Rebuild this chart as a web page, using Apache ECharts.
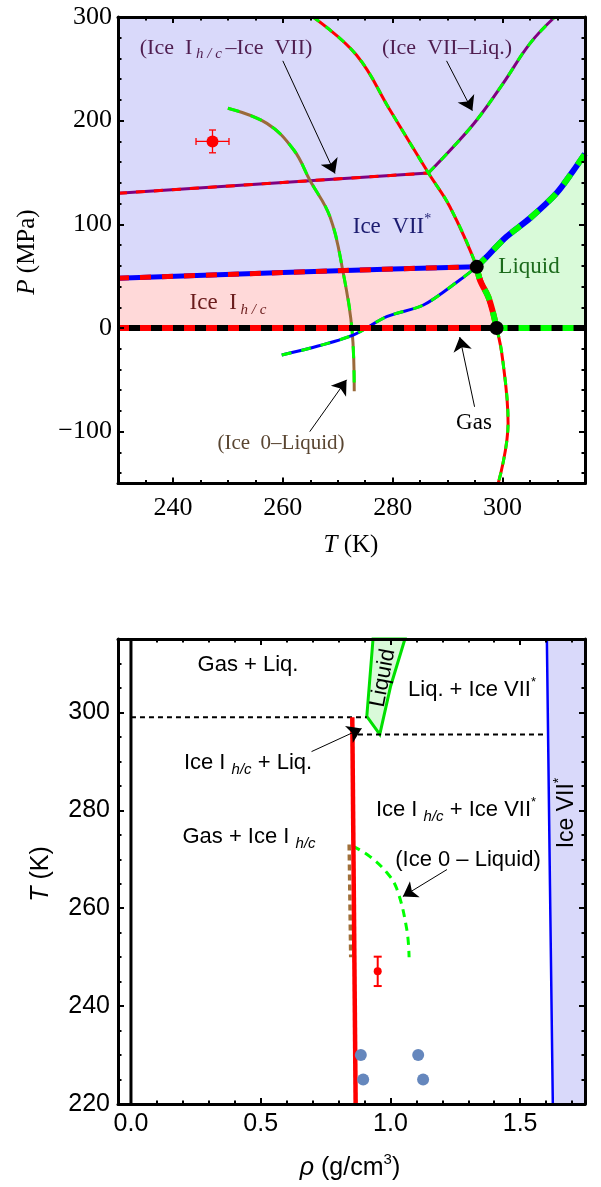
<!DOCTYPE html>
<html>
<head>
<meta charset="utf-8">
<script src="https://cdn.jsdelivr.net/npm/echarts@6/dist/echarts.min.js"></script>
<style>html,body{margin:0;padding:0;background:#fff}#main{width:601px;height:1187px}</style>
</head>
<body>
<div id="main"></div>
<script>
// ---------- top panel : P(T) phase diagram ----------
const topTTicks=[240,260,280,300]
const topPTicks=[-100,0,100,200,300]
const ihVIIStable=[[230,48],[260,53.5],[280,57],[295.3,59]]
const liqVIIStable=[[295.3,59],[297.1,68.6],[300.7,88],[305,106],[309.8,130],[312.9,152],[315,168]]
const ihLiqStable=[[295.3,59],[295.9,46],[297.4,30],[298.3,14],[298.9,0]]
const ihLiqMeta=[[265.5,300],[273.4,263.3],[279.5,210.3],[286.5,149.5],[290.4,117],[295.3,59],[298.9,0],[300.1,-34],[301,-92],[299.2,-150]]
const liqVIIMeta=[[286.5,149.5],[291.6,178],[295.3,200.6],[300.1,236],[305,274.6],[309.5,300]]
const ihVIIMeta=[[230,130],[286.5,149.5]]
const ice0Liq=[[250,212],[257.1,197.4],[262,171.7],[264.9,142.8],[268.6,107],[271,53],[272.6,-2],[273,-61]]
const ice0Meta=[[259.8,-26],[264.9,-19.6],[272.8,-6.8],[278.9,10.9],[285.6,22.2],[292.2,46.3],[295.3,59]]
const gasIh=[[230,0],[298.9,0]]
const gasLiq=[[298.9,0],[315,0]]
const triplePts=[[295.3,59],[298.9,0]]
const expTop=[[247.2,180,3,11]]
const topArrows=[[[260,257.7],[269.5,149]],[[289.8,257.7],[294.5,209.6]],[[294.9,-76],[292.2,-8.7]],[[264.9,-100],[271.6,-50]]]

// ---------- bottom panel : T(rho) ----------
const botRhoTicks=[0,0.5,1,1.5]
const botTTicks=[220,240,260,280,300]
const gasLine=[[0,220],[0,315]]
const ihLine=[[0.866,220],[0.853,299]]
const viiLine=[[1.626,220],[1.615,264.6],[1.603,315]]
const tripleHigh=[[0,299],[0.909,299]]
const tripleLow=[[0.875,295.5],[1.597,295.5]]
const liqRegion=[[0.909,299.2],[0.959,295.5],[1.001,305.4],[1.056,315],[0.933,315]]
const ice0Ih=[[0.841,273],[0.847,250]]
const ice0LiqRho=[[0.855,272.7],[0.92,270.6],[0.986,267.3],[1.025,263.9],[1.063,255.7],[1.072,250]]
const expBot=[[0.951,247.1,0,3]]
const simPts=[[0.886,230],[0.895,225],[1.107,230],[1.126,225]]
const botArrows=[[[0.696,292],[0.889,296.7]],[[1.218,267.9],[1.048,262.4]]]

const SERIF='"Liberation Serif","Times New Roman",serif'
const SANS='"Liberation Sans",Arial,sans-serif'
const LAV='#d9d9fa', PINK='#ffd9d9', LGREEN='#d9fad9'

function range(a,b,s){const r=[];for(let v=a;v<=b+1e-9;v+=s)r.push(+v.toFixed(4));return r}
function minorsOf(all,majors){return all.filter(v=>!majors.some(m=>Math.abs(m-v)<1e-6))}

// frame axes: a major + a minor axis on each side, ticks inside
function axesFor(dim,grid,min,max,majors,minors,fmt,font,size,margin){
  const sides=dim==='x'?['bottom','top']:['left','right']
  const out=[]
  sides.forEach((pos,i)=>{
    out.push({gridIndex:grid,type:'value',min,max,position:pos,z:10,splitLine:{show:false},
      axisLine:{show:true,onZero:false,lineStyle:{color:'#000',width:3}},
      axisTick:{show:true,inside:true,length:6,customValues:majors,lineStyle:{color:'#000',width:2}},
      axisLabel:{show:i===0,customValues:majors,formatter:fmt,fontFamily:font,fontSize:size,color:'#000',margin}})
    out.push({gridIndex:grid,type:'value',min,max,position:pos,z:10,splitLine:{show:false},
      axisLine:{show:false,onZero:false},
      axisTick:{show:true,inside:true,length:3.5,customValues:minors,lineStyle:{color:'#000',width:2}},
      axisLabel:{show:false}})
  })
  return out
}

function poly(points,color,ai){
  return {type:'custom',xAxisIndex:ai,yAxisIndex:ai,silent:true,z:1,data:[points[0]],
    renderItem:(p,api)=>({type:'polygon',shape:{points:points.map(pt=>api.coord(pt))},style:{fill:color}})}
}
function line(data,color,width,ai,dash,smooth,z){
  return {type:'line',xAxisIndex:ai,yAxisIndex:ai,data,symbol:'none',showSymbol:false,silent:true,
    smooth:smooth||false,z:z||3,lineStyle:{color,width,type:dash||'solid',cap:'butt'}}
}
function twoTone(data,c1,c2,width,dash,ai,smooth,z){
  return [line(data,c1,width,ai,null,smooth,z),line(data,c2,width,ai,dash,smooth,z)]
}
function errBars(data,ai,cap,w){
  return {type:'custom',xAxisIndex:ai,yAxisIndex:ai,data,z:6,silent:true,
    renderItem(p,api){
      const x=api.value(0),y=api.value(1),dx=api.value(2),dy=api.value(3)
      const st={stroke:'#ff0000',lineWidth:w}
      const ch=[]
      const seg=(x1,y1,x2,y2)=>ch.push({type:'line',shape:{x1,y1,x2,y2},style:st})
      if(dx>0){const a=api.coord([x-dx,y]),b=api.coord([x+dx,y])
        seg(a[0],a[1],b[0],b[1]);seg(a[0],a[1]-cap,a[0],a[1]+cap);seg(b[0],b[1]-cap,b[0],b[1]+cap)}
      if(dy>0){const a=api.coord([x,y-dy]),b=api.coord([x,y+dy])
        seg(a[0],a[1],b[0],b[1]);seg(a[0]-cap,a[1],a[0]+cap,a[1]);seg(b[0]-cap,b[1],b[0]+cap,b[1])}
      return {type:'group',children:ch}
    }}
}
function arrows(list,ai){
  return {type:'lines',coordinateSystem:'cartesian2d',xAxisIndex:ai,yAxisIndex:ai,z:8,silent:true,
    symbol:['none','arrow'],symbolSize:14,lineStyle:{color:'#000',width:1,opacity:1},
    data:list.map(c=>({coords:c}))}
}

const fmtP=v=>v<0?'\u2212'+Math.abs(v):String(v)
const xAxes=[
  ...axesFor('x',0,230,315,topTTicks,minorsOf(range(230,315,5),topTTicks),v=>String(v),SERIF,26,12),
  ...axesFor('x',1,-0.05,1.75,botRhoTicks,minorsOf(range(0,1.7,0.1),botRhoTicks),v=>v.toFixed(1),SANS,25,8)
]
const yAxes=[
  ...axesFor('y',0,-150,300,topPTicks,minorsOf(range(-140,300,20),topPTicks),fmtP,SERIF,26,6),
  ...axesFor('y',1,220,315,botTTicks,minorsOf(range(225,315,5),botTTicks),v=>String(v),SANS,25,8)
]

const lavTop=[...ihVIIStable,...liqVIIStable.slice(1),[315,300],[230,300]]
const pinkTop=[[230,0],...ihVIIStable,...ihLiqStable.slice(1)]
const greenTop=[...liqVIIStable,[315,0],...ihLiqStable.slice().reverse()]
const lavBot=[...viiLine,[1.75,315],[1.75,220]]

const series=[
  poly(lavTop,LAV,0),poly(pinkTop,PINK,0),poly(greenTop,LGREEN,0),
  ...twoTone(ihVIIMeta,'#800080','#ff0000',3,[9,9],0,false,3),
  ...twoTone(liqVIIMeta,'#800080','#00ff00',3,[9,9],0,0.4,3),
  ...twoTone(ice0Liq,'#9a6a3a','#00ff00',3,[12,12],0,0.4,3),
  ...twoTone(ice0Meta,'#0000ff','#00ff00',3,[10,10],0,0.3,3),
  ...twoTone(ihLiqMeta,'#ff0000','#00ff00',3,[8,8],0,0.4,4),
  ...twoTone(ihVIIStable,'#0000ff','#ff0000',5,[11,11],0,false,5),
  ...twoTone(liqVIIStable,'#0000ff','#00ff00',6,[12,12],0,0.3,5),
  ...twoTone(ihLiqStable,'#ff0000','#00ff00',6,[12,12],0,0.3,5),
  ...twoTone(gasIh,'#000000','#ff0000',6,[11,11],0,false,5),
  ...twoTone(gasLiq,'#000000','#00ff00',6,[11,11],0,false,5),
  {type:'scatter',xAxisIndex:0,yAxisIndex:0,data:triplePts,symbolSize:14,itemStyle:{color:'#000',opacity:1},z:7,silent:true},
  errBars(expTop,0,3.5,1.3),
  {type:'scatter',xAxisIndex:0,yAxisIndex:0,data:expTop.map(d=>[d[0],d[1]]),symbolSize:12,itemStyle:{color:'#ff0000',opacity:1},z:7,silent:true},
  arrows(topArrows,0),

  poly(lavBot,LAV,4),
  {type:'custom',xAxisIndex:4,yAxisIndex:4,silent:true,z:2,data:[liqRegion[0]],
    renderItem:(p,api)=>({type:'polygon',shape:{points:liqRegion.map(pt=>api.coord(pt))},style:{fill:LGREEN,stroke:'#00e000',lineWidth:3,lineJoin:'miter'}})},
  line(gasLine,'#000',3,4),
  line(viiLine,'#0000ff',2.5,4),
  line(tripleHigh,'#000',2,4,[5,4]),
  line(tripleLow,'#000',2,4,[5,4]),
  line(ihLine,'#ff0000',4.5,4,null,false,4),
  line(ice0Ih,'#a0703a',3.5,4,[6,4]),
  line(ice0LiqRho,'#00ff00',3,4,[8,6],0.4),
  errBars(expBot,4,4,2),
  {type:'scatter',xAxisIndex:4,yAxisIndex:4,data:expBot.map(d=>[d[0],d[1]]),symbolSize:8,itemStyle:{color:'#ff0000',opacity:1},z:7,silent:true},
  {type:'scatter',xAxisIndex:4,yAxisIndex:4,data:simPts,symbolSize:12,itemStyle:{color:'#6587bd',opacity:1},z:7,silent:true},
  arrows(botArrows,4)
]

function rs(font,size,color){
  return {
    n:{fontFamily:font,fontSize:size,fill:color,lineHeight:size+6},
    i:{fontFamily:font,fontSize:size,fill:color,fontStyle:'italic',lineHeight:size+6},
    s:{fontFamily:font,fontSize:Math.round(size*0.66),fill:color,fontStyle:'italic',verticalAlign:'bottom',lineHeight:Math.round(size*0.66)},
    p:{fontFamily:font,fontSize:Math.round(size*0.6),fill:color,verticalAlign:'top',lineHeight:Math.round(size*0.6)}
  }
}
function txt(x,y,text,font,size,color,rot){
  return {type:'text',x,y,rotation:rot||0,z:100,silent:true,
    style:{text,align:'center',verticalAlign:'middle',rich:rs(font,size,color),fontFamily:font,fontSize:size,fill:color}}
}
const PURP='#4f1d4f'
const graphic=[
  txt(226,48,'{n|(Ice  I}{s| h / c }{n|\u2013Ice  VII)}',SERIF,22,PURP),
  txt(447,48,'{n|(Ice  VII\u2013Liq.)}',SERIF,22,PURP),
  txt(392,227,'{n|Ice  VII}{p|*}',SERIF,23,'#1c1c70'),
  txt(529,267,'{n|Liquid}',SERIF,23,'#1c6a1c'),
  txt(228,303,'{n|Ice  I}{s| h / c}',SERIF,23,'#6a1c1c'),
  txt(474,423,'{n|Gas}',SERIF,23,'#000'),
  txt(281,443,'{n|(Ice  0\u2013Liquid)}',SERIF,21,'#5a4632'),
  txt(351,545,'{i|T}{n| (K)}',SERIF,25,'#000'),
  txt(27,252,'{i|P}{n| (MPa)}',SERIF,25,'#000',Math.PI/2),

  txt(248,665,'{n|Gas + Liq.}',SANS,22,'#000'),
  txt(472,690,'{n|Liq. + Ice VII}{p|*}',SANS,22,'#000'),
  txt(248,763,'{n|Ice I }{s|h/c}{n| + Liq.}',SANS,22,'#000'),
  txt(456,810,'{n|Ice I }{s|h/c}{n| + Ice VII}{p|*}',SANS,22,'#000'),
  txt(249,837,'{n|Gas + Ice I }{s|h/c}',SANS,22,'#000'),
  txt(468,860,'{n|(Ice 0 \u2013 Liquid)}',SANS,22,'#000'),
  txt(567,813,'{n|Ice VII}{p|*}',SANS,23,'#000',Math.PI/2),
  txt(383,678,'{n|Liquid}',SANS,22,'#000',Math.PI*0.44),
  txt(41,874,'{i|T}{n| (K)}',SANS,25,'#000',Math.PI/2),
  txt(350,1168,'{i|\u03c1}{n| (g/cm}{p|3}{n|)}',SANS,25,'#000')
]

const chart=echarts.init(document.getElementById('main'),null,{renderer:'canvas'})
chart.setOption({
  animation:false,
  backgroundColor:'#fff',
  grid:[{left:118,top:17,width:467,height:466.5},{left:118,top:639,width:467,height:465}],
  xAxis:xAxes,
  yAxis:yAxes,
  series,
  graphic
})
</script>
</body>
</html>
